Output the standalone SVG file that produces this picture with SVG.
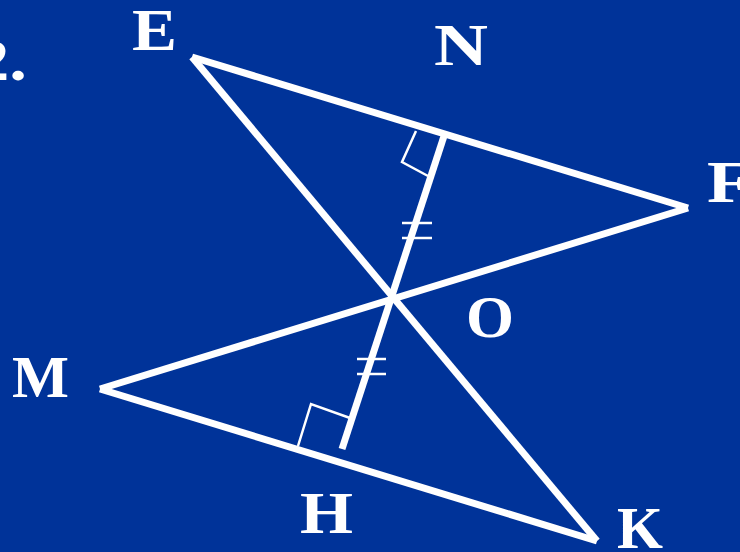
<svg xmlns="http://www.w3.org/2000/svg" width="740" height="552" viewBox="0 0 740 552">
<style>
.bg{fill:#003399}
.ln{stroke:#fff;stroke-width:7;fill:none;stroke-linecap:butt}
.thin{stroke:#fff;stroke-width:2.5;fill:none}
.lbl{fill:#fff;font-family:"Liberation Serif","Times New Roman",serif;font-weight:bold;font-size:60px}
</style>
<rect class="bg" x="0" y="0" width="740" height="552"/>
<g id="connectors">
<line class="ln" x1="192" y1="57" x2="597" y2="541"/>
<line class="ln" x1="192" y1="57" x2="688" y2="208"/>
<line class="ln" x1="100" y1="389" x2="688" y2="208"/>
<line class="ln" x1="100" y1="389" x2="597" y2="541"/>
<line class="ln" x1="445" y1="133" x2="342" y2="449"/>
<polyline class="thin" points="416,131 402,162 428,176"/>
<polyline class="thin" points="298,446 311,404 350,418"/>
<line class="thin" x1="402" y1="223" x2="432" y2="223"/>
<line class="thin" x1="402" y1="238" x2="432" y2="238"/>
<line class="thin" x1="357" y1="359" x2="386" y2="359"/>
<line class="thin" x1="357" y1="374" x2="386" y2="374"/>
</g>
<g id="label-num"><text class="lbl" x="-26" y="80" textLength="53" lengthAdjust="spacingAndGlyphs">2.</text></g>
<g id="node-E"><text class="lbl" x="132" y="50" textLength="45" lengthAdjust="spacingAndGlyphs">E</text></g>
<g id="node-N"><text class="lbl" x="434" y="65" textLength="54" lengthAdjust="spacingAndGlyphs">N</text></g>
<g id="node-F"><text class="lbl" x="707" y="202" textLength="44" lengthAdjust="spacingAndGlyphs">F</text></g>
<g id="node-O"><text class="lbl" x="466" y="337" textLength="48" lengthAdjust="spacingAndGlyphs">O</text></g>
<g id="node-M"><text class="lbl" x="12" y="397" textLength="57" lengthAdjust="spacingAndGlyphs">M</text></g>
<g id="node-H"><text class="lbl" x="300" y="533" textLength="53" lengthAdjust="spacingAndGlyphs">H</text></g>
<g id="node-K"><text class="lbl" x="617" y="548" textLength="46" lengthAdjust="spacingAndGlyphs">K</text></g>
</svg>
